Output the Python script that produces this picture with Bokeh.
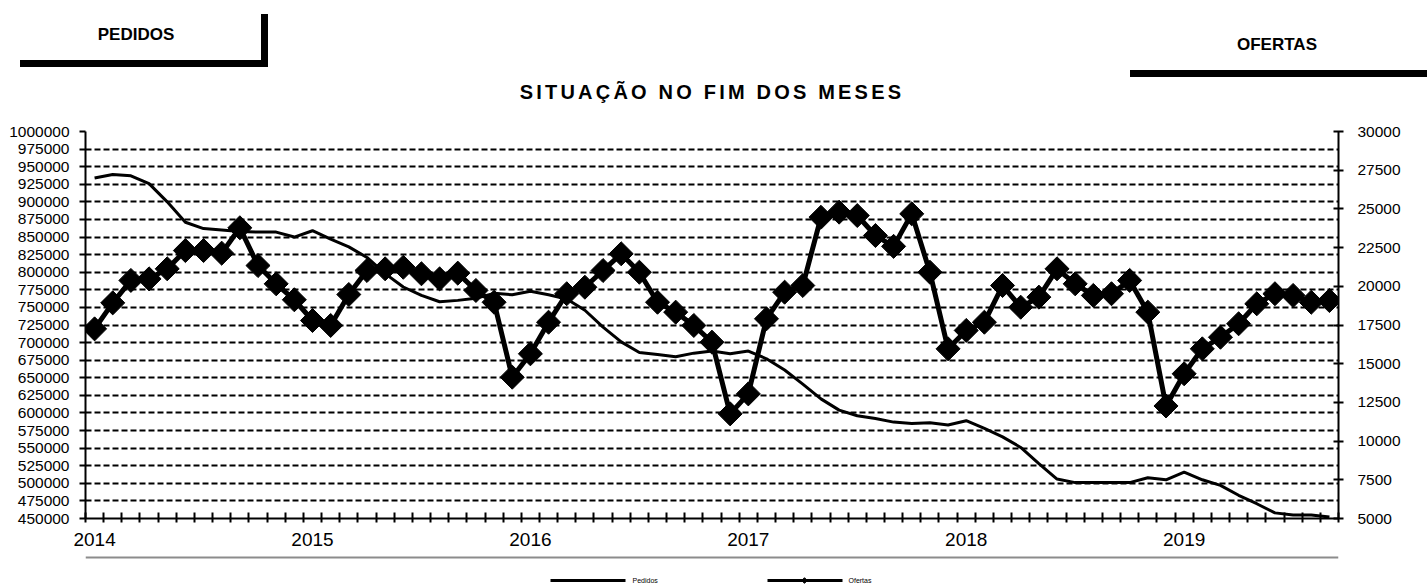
import numpy as np
from bokeh.plotting import figure
from bokeh.layouts import column
from bokeh.models import Range1d, LinearAxis, FixedTicker, PrintfTickFormatter, Div
from bokeh.core.properties import value
from bokeh.embed import file_html
from bokeh.resources import INLINE

# ---------------- data ----------------
years = ["2014", "2015", "2016", "2017", "2018", "2019"]

# Pedidos (left axis), monthly Jan 2014 .. Sep 2019
pedidos = [934000, 939000, 937000, 926000, 900000, 871000, 862000, 860000, 858000, 857000, 857000, 850000,
           859000, 847000, 836000, 821000, 798000, 779000, 767000, 758000, 760000, 763000, 770000, 768000,
           773000, 768000, 762000, 746000, 722000, 701000, 686000, 683000, 680000, 685000, 688000, 684000,
           688000, 677000, 661000, 641000, 620000, 604000, 596000, 592000, 587000, 585000, 586000, 583000,
           589000, 578000, 566000, 551000, 528000, 506000, 501000, 501000, 501000, 501000, 508000, 505000,
           516000, 505000, 497000, 483000, 471000, 458000, 455000, 455000, 452000]

# Ofertas (right axis)
ofertas = [17250, 18930, 20380, 20480, 21130, 22310, 22310, 22140, 23780, 21340, 20160, 19130,
           17790, 17470, 19470, 21020, 21130, 21230, 20810, 20480, 20850, 19730, 18970, 14130,
           15640, 17680, 19520, 19940, 21020, 22100, 20910, 18970, 18330, 17470, 16390, 11760,
           13050, 17900, 19620, 20050, 24460, 24790, 24570, 23280, 22580, 24680, 20910, 15960,
           17150, 17680, 20050, 18650, 19300, 21130, 20160, 19410, 19520, 20380, 18330, 12270,
           14350, 15960, 16710, 17580, 18870, 19520, 19410, 18970, 19080]

left_ticks = list(range(450000, 1000001, 25000))
right_ticks = list(range(5000, 30001, 2500))

series_names = ["Pedidos", "Ofertas"]
header_left = "PEDIDOS"
header_right = "OFERTAS"
chart_title = "SITUAÇÃO NO FIM DOS MESES"

n = len(pedidos)
x = list(range(1, n + 1))
year_pos = [1 + 12 * i for i in range(len(years))]

FONT = "Liberation Sans"
W = 1427
BL, BR = 85, 89  # plot borders (frame from 85 to 1338)

# ---------------- header strip (HTML) ----------------
def box(l, t, w, h, color="black"):
    return (f'<div style="position:absolute;left:{l}px;top:{t}px;width:{w}px;height:{h}px;'
            f'background:{color};"></div>')

def lab(txt, cx, cy, size, ls=0):
    return (f'<div style="position:absolute;left:{cx}px;top:{cy}px;transform:translate(-50%,-50%);'
            f'white-space:nowrap;font-family:\'{FONT}\',Arial,sans-serif;font-weight:bold;'
            f'font-size:{size}px;letter-spacing:{ls}px;line-height:1;color:black;">{txt}</div>')

header_html = (
    '<div style="position:relative;width:1427px;height:123px;overflow:hidden;background:white;">'
    + box(20, 60, 248, 7) + box(261, 14, 7, 53) + box(1130, 70, 297, 7)
    + lab(header_left, 136, 34, 17)
    + lab(header_right, 1277, 44, 17)
    + lab(chart_title, 712, 92, 20, 3.2)
    + '</div>'
)
top = Div(text=header_html, width=W, height=123, margin=(0, 0, 0, 0))

# ---------------- main chart ----------------
p = figure(width=W, height=429, output_backend="svg", toolbar_location=None, title=None,
           x_range=Range1d(0.5, n + 0.5), y_range=Range1d(450000, 1000000),
           min_border_left=BL, min_border_right=BR, min_border_top=8, min_border_bottom=34)
p.extra_y_ranges = {"ofertas": Range1d(5000, 30000)}
p.outline_line_color = None
p.background_fill_color = "white"
p.border_fill_color = "white"

xa = p.xaxis[0]
xa.ticker = FixedTicker(ticks=year_pos, minor_ticks=[i + 0.5 for i in range(0, n + 1)])
xa.major_label_overrides = {pos: yr for pos, yr in zip(year_pos, years)}
xa.major_tick_in = 0
xa.major_tick_out = 0
xa.minor_tick_in = 6
xa.minor_tick_out = 4
xa.minor_tick_line_width = 2
xa.minor_tick_line_color = "black"
xa.axis_line_width = 2
xa.axis_line_color = "black"
xa.major_label_text_font = FONT
xa.major_label_text_font_size = "19px"
xa.major_label_text_color = "black"
xa.major_label_standoff = 10

ya = p.yaxis[0]
ya.ticker = FixedTicker(ticks=left_ticks)
ya.formatter = PrintfTickFormatter(format="%d")
ya.major_tick_in = 0
ya.major_tick_out = 6
ya.minor_tick_line_color = None
ya.major_tick_line_width = 2
ya.axis_line_width = 2
ya.axis_line_color = "black"
ya.major_label_text_font = FONT
ya.major_label_text_font_size = "15.5px"
ya.major_label_text_color = "black"
ya.major_label_standoff = 10

ra = LinearAxis(y_range_name="ofertas", ticker=FixedTicker(ticks=right_ticks),
                formatter=PrintfTickFormatter(format="%d"))
ra.major_tick_in = 5
ra.major_tick_out = 5
ra.minor_tick_line_color = None
ra.major_tick_line_width = 2
ra.axis_line_width = 2
ra.axis_line_color = "black"
ra.major_label_text_font = FONT
ra.major_label_text_font_size = "15.5px"
ra.major_label_text_color = "black"
ra.major_label_standoff = 14
p.add_layout(ra, "right")

p.xgrid.visible = False
p.ygrid.ticker = FixedTicker(ticks=left_ticks)
p.ygrid.grid_line_color = "black"
p.ygrid.grid_line_dash = "6 3"
p.ygrid.grid_line_width = 2

p.line(x, pedidos, line_width=3, color="black")
p.line(x, ofertas, line_width=5, color="black", y_range_name="ofertas")
p.scatter(x, ofertas, marker="square", angle=np.pi / 4, size=17, color="black",
          y_range_name="ofertas")

# ---------------- legend strip (pixel coordinates, frame 85..1338) ----------------
bot = figure(width=W, height=34, output_backend="svg", toolbar_location=None, title=None,
             x_range=Range1d(BL, W - BR), y_range=Range1d(586, 552),
             min_border_left=BL, min_border_right=BR, min_border_top=0, min_border_bottom=0)
bot.axis.visible = False
bot.grid.visible = False
bot.outline_line_color = None
bot.background_fill_color = "white"
bot.border_fill_color = "white"
bot.quad(left=[BL], right=[W - BR], top=[556], bottom=[558], fill_color="#8c8c8c", line_color=None)
bot.segment(x0=[550, 767], y0=[580, 580], x1=[625, 842], y1=[580, 580], line_width=3, color="black")
bot.scatter(x=[804], y=[580], marker="square", angle=np.pi / 4, size=4, color="black")
bot.text(x=[632, 848], y=[580, 580], text=series_names, text_font=value(FONT),
         text_font_size="7px", text_align="left", text_baseline="middle", text_color="black")

layout = column(top, p, bot, spacing=0)
open("out.html", "w").write(file_html(layout, INLINE))
